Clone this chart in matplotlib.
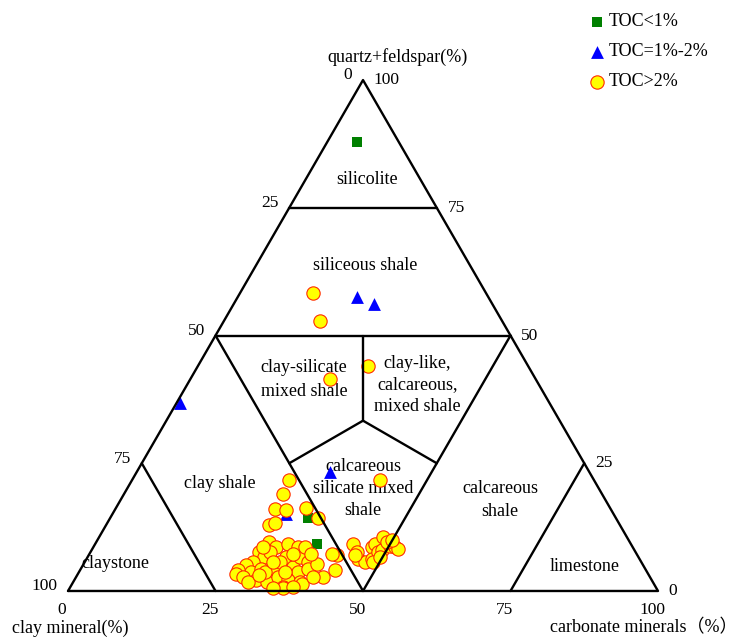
import numpy as np
import matplotlib
matplotlib.use("Agg")
import matplotlib.pyplot as plt

plt.rcParams['font.family'] = ['Liberation Serif', 'Noto Sans CJK SC']

# Mineral composition of the samples (%), clay = 100 - quartz - carbonate
quartz_low = [87.9, 14.2, 9.1]                 # TOC<1%
carb_low = [5.0, 33.5, 37.7]

quartz_mid = [36.8, 57.6, 56.2, 23.3, 15.0]    # TOC=1%-2%
carb_mid = [0.5, 20.2, 23.8, 32.8, 29.5]

quartz_high = [58.4, 52.9, 41.4, 44.0, 21.8, 21.8, 18.9, 16.0, 15.8, 13.0,
               13.4, 16.3, 14.2,
               9.5, 8.6, 9.1, 8.6, 7.6, 6.6, 6.6, 5.6, 5.1, 4.1,
               3.3, 3.7, 4.3, 4.3, 4.7, 3.7, 2.1, 1.8, 2.7, 2.1,
               1.8, 2.7, 7.6, 5.6, 3.7, 0.8, 0.6, 6.6, 8.6, 5.6,
               4.3, 5.3, 2.7, 4.1, 7.0, 7.2, 1.4, 8.6, 7.2, 5.6,
               3.7, 1.8, 3.1, 0.8, 0.6, 2.7, 7.2,
               9.1, 6.2, 5.6, 8.6, 9.1, 6.2, 7.6, 7.6, 7.0, 5.6,
               10.5, 8.0, 8.9, 8.6, 8.2, 6.6, 9.5, 9.9]
carb_high = [12.4, 16.3, 23.7, 28.8, 42.0, 26.5, 27.0, 27.0, 29.1, 27.5,
             28.3, 32.2, 35.2,
             29.3, 30.9, 32.8, 34.6, 28.5, 29.9, 33.6, 28.5, 27.6, 26.7,
             26.8, 29.1, 30.5, 33.0, 35.7, 37.2, 30.8, 32.9, 34.3, 36.3,
             38.5, 28.3, 30.5, 33.2, 31.6, 36.0, 36.2, 36.1, 35.9, 37.8,
             38.6, 39.6, 41.9, 43.2, 42.1, 41.2, 39.0, 28.7, 34.6, 31.9,
             35.0, 29.6, 30.8, 37.8, 34.4, 40.1, 37.5,
             43.8, 46.1, 47.5, 47.2, 47.5, 48.4, 48.7, 45.2, 45.2, 48.9,
             48.1, 49.2, 50.1, 51.1, 51.8, 49.6, 49.3, 49.9]

ticks = [0, 25, 50, 75, 100]
h = np.sqrt(3) / 2


def tern(quartz, carb):
    # ternary -> cartesian, clay at left, carbonate at right, quartz on top
    q = np.asarray(quartz, dtype=float)
    c = np.asarray(carb, dtype=float)
    return c + q / 2, q * h


fig = plt.figure(figsize=(7.37, 6.37), dpi=100)
ax = fig.add_axes([0, 0, 1, 1])
ax.set_xlim(-11.53, 113.39)
ax.set_ylim(-7.80, 100.17)
ax.set_axis_off()

# outline and field boundaries (quartz, carbonate) pairs
segs = [
    [(0, 0), (0, 100), (100, 0), (0, 0)],
    [(75, 0), (75, 25)],                 # quartz 75
    [(50, 0), (50, 50)],                 # quartz 50
    [(50, 0), (0, 50)],                  # clay 50
    [(50, 50), (0, 50)],                 # carbonate 50
    [(100 / 3, 100 / 3), (50, 25)],
    [(100 / 3, 100 / 3), (25, 25)],
    [(100 / 3, 100 / 3), (25, 50)],
    [(25, 0), (0, 25)],                  # clay 75
    [(25, 75), (0, 75)],                 # carbonate 75
]
for s in segs:
    xs, ys = tern([p[0] for p in s], [p[1] for p in s])
    ax.plot(xs, ys, color='black', lw=1.7, zorder=5, solid_capstyle='round')

fs = 13
# field names
ax.text(50.7, 69.7, 'silicolite', fontsize=fs, ha='center', va='center')
ax.text(50.3, 55.1, 'siliceous shale', fontsize=fs, ha='center', va='center')
ax.text(40.0, 35.9, 'clay-silicate\nmixed shale', fontsize=fs, ha='center',
        va='center', linespacing=1.55)
ax.text(59.2, 34.9, 'clay-like,\ncalcareous,\nmixed shale', fontsize=fs,
        ha='center', va='center', linespacing=1.33)
ax.text(50.0, 17.3, 'calcareous\nsilicate mixed\nshale', fontsize=fs,
        ha='center', va='center', linespacing=1.38)
ax.text(25.8, 18.3, 'clay shale', fontsize=fs, ha='center', va='center')
ax.text(73.2, 15.4, 'calcareous\nshale', fontsize=fs, ha='center', va='center',
        linespacing=1.5)
ax.text(8.0, 4.7, 'claystone', fontsize=fs, ha='center', va='center')
ax.text(87.6, 4.2, 'limestone', fontsize=fs, ha='center', va='center')

# tick labels on the three sides
tfs = 12.5
for t in ticks:
    # left side: clay percent, 100 at bottom
    x, y = tern(100 - t, 0)
    ax.text(x - 1.8, y + 0.8, str(t), fontsize=tfs, ha='right', va='center')
    # right side: quartz percent, 100 at top
    x, y = tern(t, 100 - t)
    ax.text(x + 1.8, y, str(t), fontsize=tfs, ha='left', va='center')
    # bottom: carbonate percent
    x, y = tern(0, t)
    ax.text(x - 1.0, y - 3.2, str(t), fontsize=tfs, ha='center', va='center')

ax.text(43.9, 90.5, 'quartz+feldspar(%)', fontsize=fs, ha='left', va='center')
ax.text(0.3, -6.3, 'clay mineral(%)', fontsize=fs, ha='center', va='center')
ax.text(1.0, 5 / 637, 'carbonate minerals（%）', fontsize=fs, ha='right',
        va='baseline', transform=ax.transAxes)

# samples
x, y = tern(quartz_low, carb_low)
ax.scatter(x, y, marker='s', s=55, color='#008000', lw=0, zorder=3)
x, y = tern(quartz_mid, carb_mid)
ax.scatter(x, y, marker='^', s=85, color='#0000FF', lw=0, zorder=3)
x, y = tern(quartz_high, carb_high)
ax.scatter(x, y, marker='o', s=92, facecolor='#FFFF00', edgecolor='#FF2A00',
           lw=0.8, zorder=4)

# legend
lx = 597 / 737
tx = 609 / 737
ax.scatter([lx], [1 - 22 / 637], marker='s', s=55, color='#008000', lw=0,
           transform=ax.transAxes)
ax.scatter([lx], [1 - 52 / 637], marker='^', s=85, color='#0000FF', lw=0,
           transform=ax.transAxes)
ax.scatter([lx], [1 - 82 / 637], marker='o', s=92, facecolor='#FFFF00',
           edgecolor='#FF2A00', lw=0.8, transform=ax.transAxes)
ax.text(tx, 1 - 22 / 637, 'TOC<1%', fontsize=fs, va='center', transform=ax.transAxes)
ax.text(tx, 1 - 52 / 637, 'TOC=1%-2%', fontsize=fs, va='center', transform=ax.transAxes)
ax.text(tx, 1 - 82 / 637, 'TOC>2%', fontsize=fs, va='center', transform=ax.transAxes)

fig.savefig('out.png', dpi=100)
